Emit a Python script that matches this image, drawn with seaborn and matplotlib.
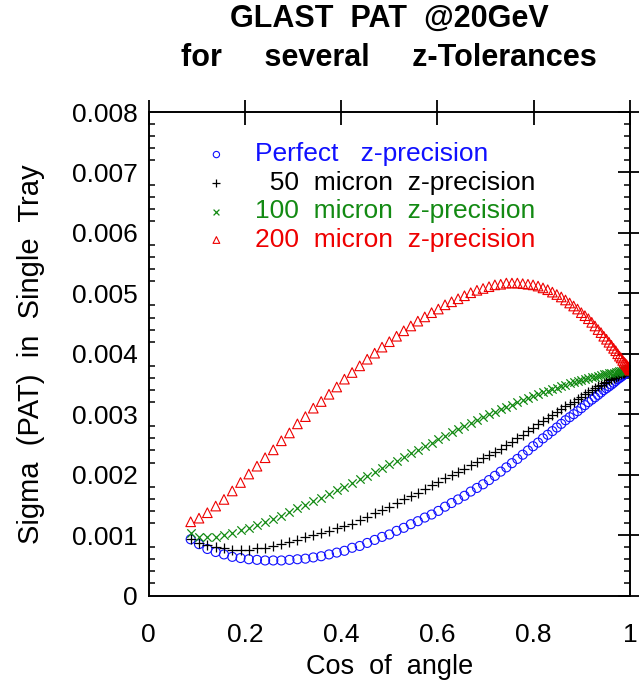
import numpy as np
import pandas as pd
import matplotlib
matplotlib.use("Agg")
import matplotlib.pyplot as plt
import seaborn as sns

# cos of the track angle (one point per degree, 85 deg -> 0 deg)
cos_angle = [0.0872, 0.1045, 0.1219, 0.1392, 0.1564, 0.1736, 0.1908, 0.2079, 0.2250, 0.2419,
             0.2588, 0.2756, 0.2924, 0.3090, 0.3256, 0.3420, 0.3584, 0.3746, 0.3907, 0.4067,
             0.4226, 0.4384, 0.4540, 0.4695, 0.4848, 0.5000, 0.5150, 0.5299, 0.5446, 0.5592,
             0.5736, 0.5878, 0.6018, 0.6157, 0.6293, 0.6428, 0.6561, 0.6691, 0.6820, 0.6947,
             0.7071, 0.7193, 0.7314, 0.7431, 0.7547, 0.7660, 0.7771, 0.7880, 0.7986, 0.8090,
             0.8192, 0.8290, 0.8387, 0.8480, 0.8572, 0.8660, 0.8746, 0.8829, 0.8910, 0.8988,
             0.9063, 0.9135, 0.9205, 0.9272, 0.9336, 0.9397, 0.9455, 0.9511, 0.9563, 0.9613,
             0.9659, 0.9703, 0.9744, 0.9781, 0.9816, 0.9848, 0.9877, 0.9903, 0.9925, 0.9945,
             0.9962, 0.9976, 0.9986, 0.9994, 0.9998, 1.0000]

sigma_perfect = [0.00093, 0.00085, 0.00077, 0.00072, 0.00068, 0.00064, 0.00062, 0.00060, 0.00059, 0.00058,
                 0.00058, 0.00058, 0.00059, 0.00060, 0.00061, 0.00063, 0.00065, 0.00068, 0.00071, 0.00074,
                 0.00079, 0.00082, 0.00087, 0.00092, 0.00097, 0.00101, 0.00107, 0.00112, 0.00118, 0.00123,
                 0.00129, 0.00134, 0.00140, 0.00147, 0.00153, 0.00159, 0.00165, 0.00172, 0.00178, 0.00184,
                 0.00191, 0.00198, 0.00205, 0.00212, 0.00219, 0.00226, 0.00233, 0.00240, 0.00247, 0.00253,
                 0.00260, 0.00266, 0.00272, 0.00278, 0.00284, 0.00290, 0.00295, 0.00300, 0.00305, 0.00310,
                 0.00315, 0.00320, 0.00324, 0.00328, 0.00332, 0.00336, 0.00340, 0.00343, 0.00346, 0.00349,
                 0.00352, 0.00355, 0.00358, 0.00360, 0.00362, 0.00364, 0.00366, 0.00367, 0.00369, 0.00370,
                 0.00371, 0.00372, 0.00372, 0.00373, 0.00373, 0.00373]

sigma_50 = [0.00093, 0.00087, 0.00084, 0.00081, 0.00078, 0.00076, 0.00076, 0.00076, 0.00078, 0.00079,
            0.00082, 0.00085, 0.00088, 0.00092, 0.00096, 0.00100, 0.00104, 0.00107, 0.00111, 0.00115,
            0.00119, 0.00125, 0.00130, 0.00137, 0.00141, 0.00147, 0.00153, 0.00159, 0.00165, 0.00170,
            0.00176, 0.00183, 0.00188, 0.00194, 0.00199, 0.00205, 0.00210, 0.00216, 0.00221, 0.00227,
            0.00232, 0.00237, 0.00243, 0.00249, 0.00254, 0.00260, 0.00266, 0.00272, 0.00277, 0.00283,
            0.00288, 0.00293, 0.00298, 0.00303, 0.00308, 0.00313, 0.00317, 0.00321, 0.00325, 0.00329,
            0.00333, 0.00337, 0.00340, 0.00343, 0.00346, 0.00349, 0.00352, 0.00354, 0.00356, 0.00358,
            0.00360, 0.00362, 0.00364, 0.00366, 0.00367, 0.00368, 0.00369, 0.00370, 0.00371, 0.00371,
            0.00372, 0.00372, 0.00373, 0.00373, 0.00373, 0.00373]

sigma_100 = [0.00103, 0.00097, 0.00096, 0.00097, 0.00100, 0.00104, 0.00108, 0.00112, 0.00117, 0.00122,
             0.00127, 0.00132, 0.00138, 0.00144, 0.00150, 0.00156, 0.00162, 0.00168, 0.00174, 0.00180,
             0.00186, 0.00192, 0.00198, 0.00205, 0.00211, 0.00217, 0.00223, 0.00229, 0.00235, 0.00241,
             0.00247, 0.00253, 0.00259, 0.00264, 0.00270, 0.00275, 0.00280, 0.00285, 0.00290, 0.00295,
             0.00300, 0.00304, 0.00308, 0.00312, 0.00316, 0.00320, 0.00323, 0.00327, 0.00330, 0.00333,
             0.00336, 0.00339, 0.00342, 0.00344, 0.00347, 0.00349, 0.00351, 0.00353, 0.00355, 0.00357,
             0.00358, 0.00360, 0.00361, 0.00362, 0.00364, 0.00365, 0.00366, 0.00367, 0.00368, 0.00369,
             0.00369, 0.00370, 0.00370, 0.00371, 0.00371, 0.00372, 0.00372, 0.00372, 0.00373, 0.00373,
             0.00373, 0.00373, 0.00373, 0.00373, 0.00373, 0.00373]

sigma_200 = [0.00122, 0.00128, 0.00137, 0.00148, 0.00159, 0.00173, 0.00187, 0.00201, 0.00214, 0.00228,
             0.00241, 0.00256, 0.00269, 0.00284, 0.00296, 0.00310, 0.00321, 0.00333, 0.00345, 0.00358,
             0.00369, 0.00380, 0.00391, 0.00401, 0.00411, 0.00420, 0.00429, 0.00438, 0.00446, 0.00454,
             0.00461, 0.00468, 0.00474, 0.00481, 0.00486, 0.00491, 0.00496, 0.00501, 0.00505, 0.00508,
             0.00511, 0.00514, 0.00515, 0.00517, 0.00517, 0.00517, 0.00516, 0.00515, 0.00514, 0.00512,
             0.00509, 0.00506, 0.00502, 0.00498, 0.00494, 0.00489, 0.00484, 0.00479, 0.00474, 0.00468,
             0.00463, 0.00458, 0.00452, 0.00446, 0.00440, 0.00435, 0.00429, 0.00424, 0.00419, 0.00414,
             0.00409, 0.00405, 0.00400, 0.00396, 0.00393, 0.00389, 0.00386, 0.00384, 0.00382, 0.00380,
             0.00378, 0.00377, 0.00376, 0.00375, 0.00374, 0.00373]

labels = ['Perfect   z-precision', '  50  micron  z-precision',
          '100  micron  z-precision', '200  micron  z-precision']
x_ticks = [0, 0.2, 0.4, 0.6, 0.8, 1.0]
x_ticklabels = ['0', '0.2', '0.4', '0.6', '0.8', '1']
y_ticks = [0, 0.001, 0.002, 0.003, 0.004, 0.005, 0.006, 0.007, 0.008]
y_ticklabels = ['0', '0.001', '0.002', '0.003', '0.004', '0.005', '0.006', '0.007', '0.008']

sns.set_style('white')
plt.rcParams['font.family'] = ['Liberation Sans', 'DejaVu Sans']
plt.rcParams['text.color'] = 'black'
plt.rcParams['axes.labelcolor'] = 'black'
plt.rcParams['xtick.color'] = 'black'
plt.rcParams['ytick.color'] = 'black'

fig = plt.figure(figsize=(6.39, 6.86), dpi=100)
ax = fig.add_axes([0.2327, 0.1319, 0.7532, 0.7048])

df = pd.DataFrame({'cos': cos_angle, 'perfect': sigma_perfect, 's50': sigma_50,
                   's100': sigma_100, 's200': sigma_200})

# PLOT DATA (open circles, plus, cross, open triangles)
sns.scatterplot(data=df, x='cos', y='perfect', marker='o', s=42, facecolors='none',
                edgecolor='#1010ff', linewidth=0.8, ax=ax, label=labels[0])
sns.scatterplot(data=df, x='cos', y='s50', marker='+', s=52, color='black',
                linewidth=0.9, ax=ax, label=labels[1])
sns.scatterplot(data=df, x='cos', y='s100', marker='x', s=36, color='#138a13',
                linewidth=0.9, ax=ax, label=labels[2])
sns.scatterplot(data=df, x='cos', y='s200', marker='^', s=48, facecolors='none',
                edgecolor='#ee0000', linewidth=0.8, ax=ax, label=labels[3])

# AXES LIMITS AND TICKS
ax.set_xlim(0, 1)
ax.set_ylim(0, 0.008)
ax.set_xticks(x_ticks)
ax.set_xticklabels(x_ticklabels)
ax.set_yticks(y_ticks)
ax.set_yticklabels(y_ticklabels)
ax.set_yticks(np.arange(0, 0.008, 0.0002), minor=True)
ax.tick_params(which='major', direction='inout', length=18, width=1.3, top=True, right=True,
               labelsize=19, colors='black')
ax.tick_params(axis='x', which='major', pad=11)
ax.tick_params(axis='y', which='major', pad=-1)
ax.tick_params(axis='y', which='minor', direction='in', length=4, width=1.1, left=True, right=True)
for sp in ax.spines.values():
    sp.set_visible(True)
    sp.set_color('black')
    sp.set_linewidth(1.4)

# AXES LABELS
ax.set_xlabel('Cos  of  angle', fontsize=19.5, labelpad=5)
ax.set_ylabel('Sigma  (PAT)  in  Single  Tray', fontsize=21, labelpad=19)

# TITLE
fig.text(0.609, 0.972, 'GLAST  PAT  @20GeV', ha='center', va='center',
         fontsize=22, fontweight='bold')
fig.text(0.609, 0.915, 'for     several     z-Tolerances', ha='center', va='center',
         fontsize=22, fontweight='bold')

ax.legend(loc='upper left', bbox_to_anchor=(0.116, 0.937), borderaxespad=0, borderpad=0,
          frameon=False, fontsize=19, markerscale=0.7, handlelength=0.9, handletextpad=1.0,
          labelspacing=0.17, labelcolor=['#1010ff', 'black', '#138a13', '#ee0000'])

plt.savefig('out.png', dpi=100)
